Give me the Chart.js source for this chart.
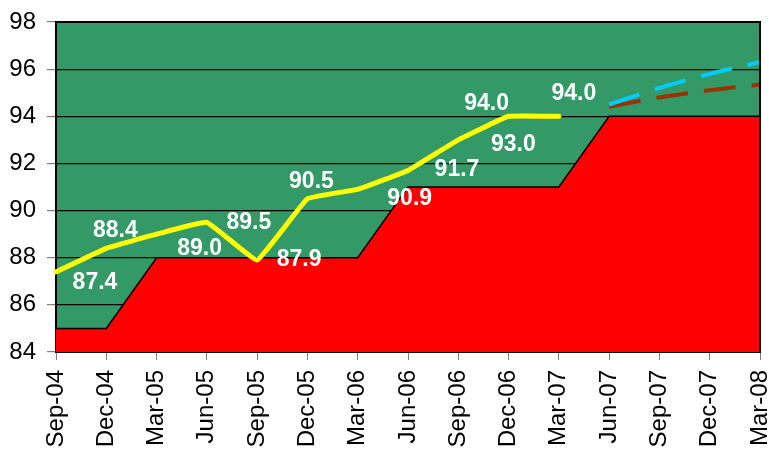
<!DOCTYPE html>
<html>
<head>
<meta charset="utf-8">
<script src="https://cdn.jsdelivr.net/npm/chart.js@4"></script>
<style>
  html, body { margin: 0; padding: 0; background: #fff; }
  #wrap { width: 769px; height: 453px; }
</style>
</head>
<body>
<div id="wrap"><canvas id="rateChart" width="769" height="453"></canvas></div>
<script>
const quarters = ['Sep-04', 'Dec-04', 'Mar-05', 'Jun-05', 'Sep-05', 'Dec-05', 'Mar-06', 'Jun-06',
    'Sep-06', 'Dec-06', 'Mar-07', 'Jun-07', 'Sep-07', 'Dec-07', 'Mar-08'];
const floorLevel = [85, 85, 88, 88, 88, 88, 88, 91, 91, 91, 91, 94, 94, 94, 94];
const actual = [87.4, 88.4, 89.0, 89.5, 87.9, 90.5, 90.9, 91.7, 93.0, 94.0, 94.0, null, null, null, null];
const forecastHigh = [null, null, null, null, null, null, null, null, null, null, null, 94.5, 95.2, 95.8, 96.3];
const forecastLow = [null, null, null, null, null, null, null, null, null, null, null, 94.4, 94.8, 95.1, 95.35];
const yTicks = [84, 86, 88, 90, 92, 94, 96, 98];

// where each value label sits, relative to its point (px)
const labelShift = [[39, 11], [9, -18], [43, 15], [42, 0], [42, 0], [4, -17],
    [52, 9], [49, -1], [55, 5], [-22, -13], [15, -23]];

const plotBackground = {
    id: 'plotBackground',
    beforeDraw(chart) {
        const { ctx, chartArea: a } = chart;
        ctx.save();
        ctx.fillStyle = '#339966';
        ctx.fillRect(a.left, a.top, a.right - a.left, a.bottom - a.top);
        ctx.restore();
    },
    afterDraw(chart) {
        const { ctx, chartArea: a } = chart;
        ctx.save();
        ctx.strokeStyle = '#000';
        ctx.lineWidth = 2;
        ctx.beginPath();
        ctx.moveTo(a.left, a.top);
        ctx.lineTo(a.right, a.top);
        ctx.lineTo(a.right, a.bottom);
        ctx.stroke();
        ctx.restore();
    }
};

const valueLabels = {
    id: 'valueLabels',
    afterDatasetsDraw(chart) {
        const ctx = chart.ctx;
        const meta = chart.getDatasetMeta(1);
        ctx.save();
        ctx.font = 'bold 23px "Liberation Sans", Arial, sans-serif';
        ctx.fillStyle = '#fff';
        ctx.textAlign = 'center';
        ctx.textBaseline = 'middle';
        meta.data.forEach((pt, i) => {
            if (actual[i] === null) return;
            const s = labelShift[i];
            ctx.fillText(actual[i].toFixed(1), pt.x + s[0], pt.y + s[1]);
        });
        ctx.restore();
    }
};

const config = {
    type: 'line',
    data: {
        labels: quarters,
        datasets: [
            {
                label: 'Floor',
                data: floorLevel,
                borderColor: '#000',
                borderWidth: 1.5,
                backgroundColor: '#ff0000',
                fill: 'start',
                tension: 0,
                pointRadius: 0,
                order: 3
            },
            {
                label: 'Actual',
                data: actual,
                borderColor: '#ffff00',
                borderWidth: 5,
                borderCapStyle: 'round',
                borderJoinStyle: 'round',
                fill: false,
                tension: 0.08,
                pointRadius: 0,
                order: 1
            },
            {
                label: 'High',
                data: forecastHigh,
                borderColor: '#00ccff',
                borderWidth: 4,
                borderDash: [32, 16],
                fill: false,
                tension: 0.3,
                pointRadius: 0,
                order: 2
            },
            {
                label: 'Low',
                data: forecastLow,
                borderColor: '#993300',
                borderWidth: 4,
                borderDash: [32, 16],
                fill: false,
                tension: 0.3,
                pointRadius: 0,
                order: 2
            }
        ]
    },
    options: {
        responsive: false,
        animation: false,
        devicePixelRatio: 1,
        layout: { padding: { top: 22, right: 9, left: 0, bottom: 0 } },
        plugins: {
            legend: { display: false },
            tooltip: { enabled: false }
        },
        scales: {
            x: {
                offset: false,
                afterFit: s => { s.height = 101; s.paddingLeft = 0; s.paddingRight = 0; },
                grid: { drawOnChartArea: false, drawTicks: true, tickLength: 8, tickColor: '#808080' },
                border: { color: '#000', width: 2 },
                ticks: {
                    color: '#000',
                    minRotation: 90,
                    maxRotation: 90,
                    autoSkip: false,
                    padding: 10,
                    font: { family: '"Liberation Sans", Arial, sans-serif', size: 24 }
                }
            },
            y: {
                min: 84,
                max: 98,
                afterFit: s => { s.width = 56; s.paddingTop = 0; s.paddingBottom = 0; },
                afterBuildTicks: s => { s.ticks = yTicks.map(v => ({ value: v })); },
                grid: { color: '#000', lineWidth: 1.2, tickLength: 9, tickColor: '#808080' },
                border: { color: '#000', width: 2 },
                ticks: {
                    color: '#000',
                    padding: 11,
                    font: { family: '"Liberation Sans", Arial, sans-serif', size: 24 }
                }
            }
        }
    },
    plugins: [plotBackground, valueLabels]
};

var rateChart = new Chart(document.getElementById('rateChart'), config);
</script>
</body>
</html>
